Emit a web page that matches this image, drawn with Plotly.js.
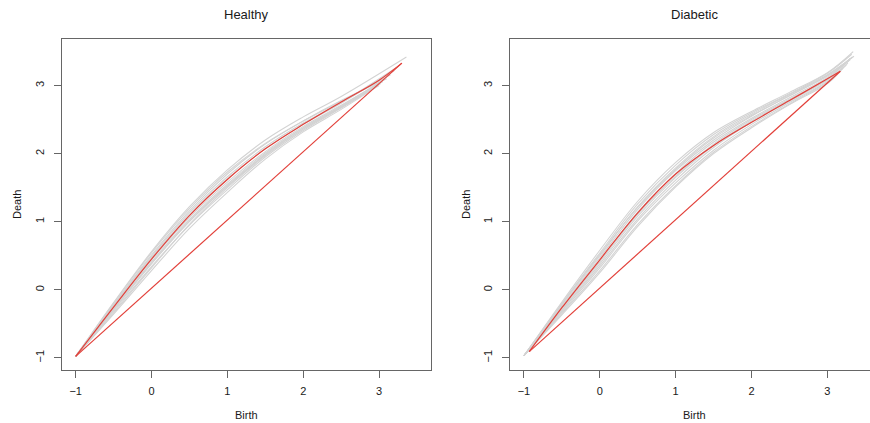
<!DOCTYPE html>
<html>
<head>
<meta charset="utf-8">
<script src="https://cdn.plot.ly/plotly-3.0.1.min.js"></script>
<style>
html,body{margin:0;padding:0;overflow:hidden;background:#fff;}
#chart{width:880px;height:423px;}
</style>
</head>
<body>
<div id="chart"></div>
<script>
// ---------- DATA ----------
const panelTitles = ["Healthy", "Diabetic"];
const xLabel = "Birth";
const yLabel = "Death";
const tickValues = [-1, 0, 1, 2, 3];

// Healthy: grey curves (birth x, death y)
const healthyGreyX = [
  [-1, -0.5, 0, 0.5, 1, 1.5, 2, 2.5, 3.36],
  [-1, -0.5, 0, 0.5, 1, 1.5, 2, 2.5, 3.10],
  [-1, -0.5, 0, 0.5, 1, 1.5, 2, 2.5, 3.00],
  [-1, -0.5, 0, 0.5, 1, 1.5, 2, 2.5, 2.97],
  [-1, -0.5, 0, 0.5, 1, 1.5, 2, 2.5, 3.05],
  [-1, -0.5, 0, 0.5, 1, 1.5, 2, 2.5, 2.95],
  [-1, -0.5, 0, 0.5, 1, 1.5, 2, 2.5, 3.20],
  [-1, -0.5, 0, 0.5, 1, 1.5, 2, 2.5, 3.00],
  [-1, -0.5, 0, 0.5, 1, 1.5, 2, 2.5, 3.15],
  [-1, -0.5, 0, 0.5, 1, 1.5, 2, 2.5, 3.02],
  [-1, -0.5, 0, 0.5, 1, 1.5, 2, 2.5, 3.08],
  [-1, -0.5, 0, 0.5, 1, 1.5, 2, 2.5, 3.25]
];
const healthyGreyY = [
  [-0.98, -0.19, 0.56, 1.22, 1.76, 2.20, 2.54, 2.84, 3.42],
  [-0.98, -0.22, 0.51, 1.16, 1.70, 2.14, 2.48, 2.78, 3.10],
  [-0.98, -0.30, 0.38, 1.00, 1.52, 1.98, 2.36, 2.68, 3.00],
  [-0.98, -0.32, 0.34, 0.95, 1.47, 1.95, 2.34, 2.67, 2.99],
  [-0.98, -0.26, 0.44, 1.06, 1.58, 2.03, 2.40, 2.71, 3.06],
  [-0.98, -0.36, 0.28, 0.90, 1.43, 1.92, 2.32, 2.65, 2.97],
  [-0.98, -0.24, 0.47, 1.10, 1.63, 2.07, 2.43, 2.74, 3.22],
  [-0.98, -0.28, 0.41, 1.03, 1.55, 2.01, 2.38, 2.69, 3.02],
  [-0.98, -0.20, 0.54, 1.19, 1.73, 2.15, 2.48, 2.77, 3.16],
  [-0.98, -0.34, 0.32, 0.96, 1.50, 1.97, 2.36, 2.68, 3.03],
  [-0.98, -0.29, 0.39, 1.01, 1.53, 1.99, 2.38, 2.70, 3.10],
  [-0.98, -0.23, 0.49, 1.13, 1.66, 2.10, 2.45, 2.75, 3.28]
];
// Healthy: red mean curve and diagonal
const healthyRedX = [-1, -0.5, 0, 0.5, 1, 1.5, 2, 2.5, 3.0, 3.3];
const healthyRedY = [-0.98, -0.255, 0.45, 1.09, 1.62, 2.07, 2.43, 2.76, 3.08, 3.33];
const healthyDiagX = [-1, 3.3];
const healthyDiagY = [-0.98, 3.33];

// Diabetic: grey curves
const diabeticGreyX = [
  [-1, -0.5, 0, 0.5, 1, 1.5, 2, 2.5, 3, 3.34],
  [-1, -0.5, 0, 0.5, 1, 1.5, 2, 2.5, 3, 3.35],
  [-1, -0.5, 0, 0.5, 1, 1.5, 2, 2.5, 3, 3.28],
  [-1, -0.5, 0, 0.5, 1, 1.5, 2, 2.5, 3, 3.25],
  [-1, -0.5, 0, 0.5, 1, 1.5, 2, 2.5, 3, 3.22],
  [-1, -0.5, 0, 0.5, 1, 1.5, 2, 2.5, 3, 3.30],
  [-1, -0.5, 0, 0.5, 1, 1.5, 2, 2.5, 3, 3.20],
  [-1, -0.5, 0, 0.5, 1, 1.5, 2, 2.5, 3, 3.32],
  [-1, -0.5, 0, 0.5, 1, 1.5, 2, 2.5, 3, 3.30],
  [-1, -0.5, 0, 0.5, 1, 1.5, 2, 2.5, 3, 3.18],
  [-1, -0.5, 0, 0.5, 1, 1.5, 2, 2.5, 3, 3.27],
  [-1, -0.5, 0, 0.5, 1, 1.5, 2, 2.5, 3, 3.33]
];
const diabeticGreyY = [
  [-0.97, -0.18, 0.58, 1.30, 1.87, 2.31, 2.62, 2.90, 3.19, 3.50],
  [-0.97, -0.22, 0.50, 1.22, 1.79, 2.25, 2.58, 2.87, 3.16, 3.43],
  [-0.97, -0.26, 0.43, 1.14, 1.71, 2.17, 2.52, 2.82, 3.12, 3.36],
  [-0.97, -0.31, 0.35, 1.04, 1.61, 2.09, 2.46, 2.77, 3.08, 3.30],
  [-0.97, -0.35, 0.28, 0.96, 1.53, 2.02, 2.40, 2.73, 3.05, 3.27],
  [-0.97, -0.28, 0.41, 1.11, 1.67, 2.14, 2.50, 2.80, 3.10, 3.40],
  [-0.97, -0.33, 0.32, 1.01, 1.57, 2.05, 2.43, 2.75, 3.06, 3.25],
  [-0.97, -0.20, 0.54, 1.26, 1.83, 2.28, 2.60, 2.88, 3.18, 3.46],
  [-0.97, -0.24, 0.47, 1.18, 1.75, 2.20, 2.55, 2.85, 3.14, 3.38],
  [-0.97, -0.37, 0.25, 0.93, 1.51, 2.00, 2.38, 2.72, 3.03, 3.22],
  [-0.97, -0.30, 0.38, 1.08, 1.65, 2.12, 2.48, 2.79, 3.09, 3.33],
  [-0.97, -0.21, 0.52, 1.21, 1.77, 2.23, 2.56, 2.85, 3.15, 3.42]
];
// Diabetic: red mean curve and diagonal
const diabeticRedX = [-0.93, -0.5, 0, 0.5, 1.0, 1.5, 2.0, 2.5, 3.0, 3.17];
const diabeticRedY = [-0.91, -0.265, 0.44, 1.13, 1.70, 2.12, 2.46, 2.78, 3.10, 3.21];
const diabeticDiagX = [-0.93, 3.17];
const diabeticDiagY = [-0.91, 3.21];

// ---------- STYLE ----------
const W = 880, H = 423;
const greyCol = "#d3d3d3";
const redCol = "#e2403a";
const boxCol = "#666666";
const textCol = "#1a1a1a";
const fontFam = "Liberation Sans, Arial, Helvetica, sans-serif";
const axRange = [-1.18, 3.68];

const traces = [];
function addPanel(gx, gy, rx, ry, dx, dy, xa, ya) {
  for (let i = 0; i < gx.length; i++) {
    traces.push({x: gx[i], y: gy[i], xaxis: xa, yaxis: ya, mode: "lines",
      line: {color: greyCol, width: 1.1, shape: "spline", smoothing: 1},
      hoverinfo: "skip", showlegend: false});
  }
  traces.push({x: dx, y: dy, xaxis: xa, yaxis: ya, mode: "lines",
    line: {color: redCol, width: 1.2}, hoverinfo: "skip", showlegend: false});
  traces.push({x: rx, y: ry, xaxis: xa, yaxis: ya, mode: "lines",
    line: {color: redCol, width: 1.2, shape: "spline", smoothing: 1},
    hoverinfo: "skip", showlegend: false});
}
addPanel(healthyGreyX, healthyGreyY, healthyRedX, healthyRedY, healthyDiagX, healthyDiagY, "x", "y");
addPanel(diabeticGreyX, diabeticGreyY, diabeticRedX, diabeticRedY, diabeticDiagX, diabeticDiagY, "x2", "y2");

function xax(d0, d1, anchor) {
  return {domain: [d0 / W, d1 / W], range: axRange, anchor: anchor,
    tickvals: tickValues, ticks: "outside", ticklen: 7, tickwidth: 1, tickcolor: boxCol,
    ticklabelstandoff: 4,
    showline: true, linecolor: boxCol, linewidth: 1, mirror: true,
    showgrid: false, zeroline: false, tickfont: {family: fontFam, size: 11, color: textCol},
    fixedrange: true};
}
function yax(anchor) {
  return {domain: [(H - 370) / H, (H - 39.3) / H], range: axRange, anchor: anchor,
    tickvals: tickValues, ticks: "outside", ticklen: 7, tickwidth: 1, tickcolor: boxCol,
    tickangle: -90, ticklabelstandoff: 6,
    showline: true, linecolor: boxCol, linewidth: 1, mirror: true,
    showgrid: false, zeroline: false, tickfont: {family: fontFam, size: 11, color: textCol},
    fixedrange: true};
}

const L1 = 62, R1 = 430.7, L2 = 510.3, R2 = 879;
function ann(text, px, py, size, angle) {
  return {text: text, xref: "paper", yref: "paper", x: px / W, y: (H - py) / H,
    xanchor: "center", yanchor: "middle", showarrow: false, textangle: angle || 0,
    font: {family: fontFam, size: size, color: textCol}};
}
const annotations = [
  ann(panelTitles[0], (L1 + R1) / 2, 14, 13),
  ann(panelTitles[1], (L2 + R2) / 2, 14, 13),
  ann(xLabel, (L1 + R1) / 2, 415, 11),
  ann(xLabel, (L2 + R2) / 2, 415, 11),
  ann(yLabel, 17, 205, 11, -90),
  ann(yLabel, 466, 205, 11, -90)
];

const layout = {
  width: W, height: H,
  margin: {l: 0, r: 0, t: 0, b: 0, pad: 0},
  paper_bgcolor: "#fff", plot_bgcolor: "#fff",
  showlegend: false,
  xaxis: xax(L1, R1, "y"),
  yaxis: yax("x"),
  xaxis2: xax(L2, R2, "y2"),
  yaxis2: yax("x2"),
  annotations: annotations
};

Plotly.newPlot("chart", traces, layout, {staticPlot: true, displayModeBar: false});
</script>
</body>
</html>
